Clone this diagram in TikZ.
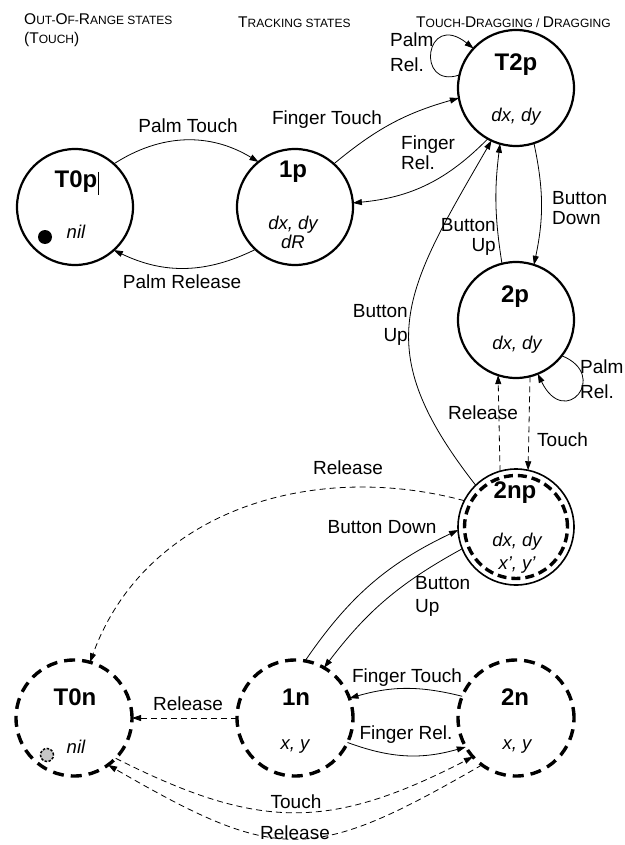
\documentclass[tikz,border=0pt]{standalone}
\usepackage{fontspec}
\setmainfont{Liberation Sans}
\usetikzlibrary{arrows.meta}
\newcommand\hcap[1]{{\fontsize{15.5}{16}\selectfont #1}}
\begin{document}
\begin{tikzpicture}[x=1pt,y=1pt,
 st/.style={circle, minimum size=116pt, inner sep=0pt, outer sep=0pt, draw, line width=2.2pt},
 stn/.style={st, dash pattern=on 11pt off 7pt, line width=3.4pt},
 lbl/.style={font=\fontsize{19}{20}\selectfont, inner sep=0pt},
 hdr/.style={font=\fontsize{12}{13}\selectfont, inner sep=0pt, anchor=west},
 ttl/.style={font=\fontsize{24}{24}\selectfont\bfseries, inner sep=0pt},
 val/.style={font=\fontsize{18.5}{20}\selectfont\itshape, inner sep=0pt},
 ed/.style={line width=0.8pt, -{Triangle[length=9pt,width=6pt]}},
 edd/.style={ed, dash pattern=on 6pt off 4pt}]
\useasboundingbox (0,0) rectangle (624,-845);

% headers
\node[hdr] (h1) at (24,-19) {\hcap{O}UT-\hcap{O}F-\hcap{R}ANGE STATES};
\node[hdr] (h2) at (24,-39) {\hcap{(T}OUCH\hcap{)}};
\node[hdr] (h3) at (238,-22) {\hcap{T}RACKING STATES};
\node[hdr] (h4) at (416,-22) {\hcap{T}OUCH-\hcap{D}RAGGING / \hcap{D}RAGGING};

% states
\node[st] (T0p) at (75,-207) {};
\node[st] (1p) at (295,-207) {};
\node[st] (T2p) at (516,-88) {};
\node[st] (2p) at (516,-320) {};
\node[st, line width=1.6pt] (2np) at (516,-527) {};
\draw[line width=3.4pt, dash pattern=on 9pt off 5pt] (2np.center) circle (51.5);
\node[stn] (T0n) at (74,-718) {};
\node[stn] (1n) at (295,-718) {};
\node[stn] (2n) at (516,-718) {};

% state texts
\node[ttl] (T0p-t) at (76,-182) {T0p};
\draw[line width=0.7pt] (98,-172) -- (98,-195);
\node[val] (T0p-v) at (76,-232) {nil};
\fill (45,-237) circle (7);
\node[ttl] (1p-t) at (293,-172) {1p};
\node[val] (1p-v) at (293,-225) {dx, dy};
\node[val] (1p-w) at (293,-242) {dR};
\node[ttl] (T2p-t) at (516,-65) {T2p};
\node[val] (T2p-v) at (516,-117) {dx, dy};
\node[ttl] (2p-t) at (515,-297) {2p};
\node[val] (2p-v) at (517,-345) {dx, dy};
\node[ttl] (2np-t) at (515,-493) {2np};
\node[val] (2np-v) at (517,-542) {dx, dy};
\node[val] (2np-w) at (517,-565) {x', y'};
\node[ttl] (T0n-t) at (75,-697) {T0n};
\node[val] (T0n-v) at (76,-747) {nil};
\draw[fill=gray!45, dash pattern=on 2.5pt off 1.5pt, line width=1.5pt] (47,-755) circle (6.5);
\node[ttl] (1n-t) at (296,-697) {1n};
\node[val] (1n-v) at (295,-747) {x, y};
\node[ttl] (2n-t) at (515,-697) {2n};
\node[val] (2n-v) at (517,-747) {x, y};

% connectors
\draw[ed] (T0p.48) to[bend left=32] (1p.129);
\draw[ed] (1p.227) to[bend left=26] (T0p.312);
\draw[ed] (1p.48) to[bend left=12] (T2p.190);
\draw[ed] (T2p.241) to[bend left=20] (1p.4);
\draw[ed] (T2p.167) .. controls (415,-90) and (425,-10) .. (T2p.137);
\draw[ed] (T2p.288) to[bend left=12] (2p.72);
\draw[ed] (2p.104) to[bend left=8] (T2p.254);
\draw[ed] (2np.134) to[out=128,in=240,looseness=1.3] (T2p.245);
\draw[edd] (2np.106) -- (2p.252);
\draw[edd] (2p.284) -- (2np.78);
\draw[ed] (2p.322) .. controls (610,-375) and (565,-430) .. (2p.292);
\draw[edd] (2np.153) to[out=165,in=70] (T0n.74);
\draw[ed] (2np.202) to[bend right=12] (1n.60);
\draw[ed] (1n.80) to[bend left=15] (2np.183);
\draw[edd] (1n.180) -- (T0n.0);
\draw[ed] (2n.158) to[bend right=15] (1n.20);
\draw[ed] (1n.335) to[bend right=18] (2n.210);
\draw[edd] (T0n.316) to[bend right=27,looseness=1.15] (2n.222);
\draw[edd] (2n.234) to[bend left=30,looseness=1.35] (T0n.306);

% labels
\node[lbl] (l1) at (188,-126) {Palm Touch};
\node[lbl] (l2) at (182,-282) {Palm Release};
\node[lbl] (l3) at (327,-120) {Finger Touch};
\node[lbl, anchor=west, align=left] (l4) at (401,-153) {Finger\\Rel.};
\node[lbl, anchor=west, align=left] (l5) at (390,-52.5) {Palm\\[5pt]Rel.};
\node[lbl, anchor=west, align=left] (l6) at (552,-208) {Button\\Down};
\node[lbl, anchor=east, align=right] (l7) at (496,-237) {Button\\Up};
\node[lbl, anchor=east, align=right] (l8) at (408,-325) {Button\\[4pt]Up};
\node[lbl] (l9) at (483,-413) {Release};
\node[lbl, anchor=west] (l10) at (537,-440) {Touch};
\node[lbl, anchor=west, align=left] (l11) at (580,-379.5) {Palm\\[5pt]Rel.};
\node[lbl] (l12) at (348,-468) {Release};
\node[lbl] (l13) at (382,-527) {Button Down};
\node[lbl, anchor=west, align=left] (l14) at (415,-596.5) {Button\\[3pt]Up};
\node[lbl] (l15) at (188,-704) {Release};
\node[lbl] (l16) at (407,-678) {Finger Touch};
\node[lbl] (l17) at (406,-735) {Finger Rel.};
\node[lbl] (l18) at (296,-802) {Touch};
\node[lbl] (l19) at (295,-833) {Release};
\end{tikzpicture}
\end{document}
